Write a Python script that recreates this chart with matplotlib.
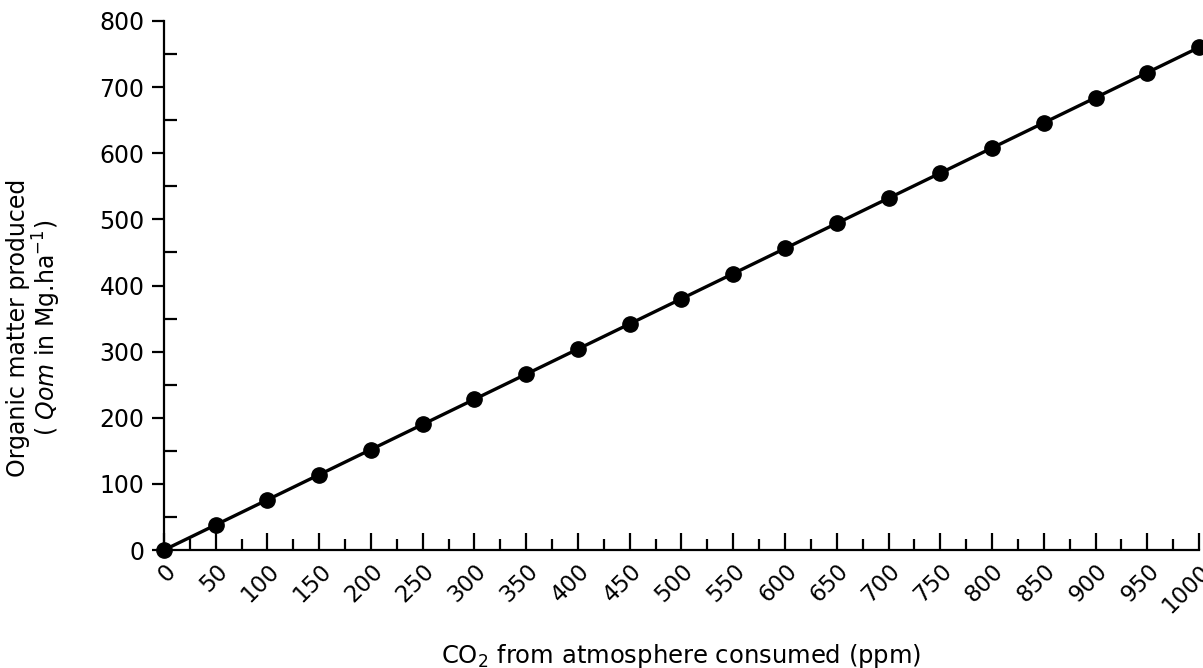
import numpy as np
import matplotlib.pyplot as plt
from matplotlib.ticker import MultipleLocator

# CO2 consumed (ppm) and organic matter produced (Mg/ha)
co2_ppm = [0, 50, 100, 150, 200, 250, 300, 350, 400, 450, 500,
           550, 600, 650, 700, 750, 800, 850, 900, 950, 1000]
qom = [0, 38, 76, 114, 152, 190, 228, 266, 304, 342, 380,
       418, 456, 494, 532, 570, 608, 646, 684, 722, 760]
x_ticks = list(range(0, 1001, 50))
y_ticks = list(range(0, 801, 100))

plt.rcParams['font.family'] = ['DejaVu Sans']

fig = plt.figure(figsize=(12.03, 6.68), dpi=100)
ax = fig.add_axes([0.1363, 0.1766, 0.8604, 0.792])

ax.plot(co2_ppm, qom, color='black', lw=2.4, marker='o', ms=11,
        clip_on=False, zorder=3)

ax.set_xlim(0, 1000)
ax.set_ylim(0, 800)
ax.set_xticks(x_ticks)
ax.set_xticklabels([str(v) for v in x_ticks], rotation=45, ha='right',
                   rotation_mode='anchor', fontsize=16.5)
ax.set_yticks(y_ticks)
ax.set_yticklabels([str(v) for v in y_ticks], fontsize=17)
ax.xaxis.set_minor_locator(MultipleLocator(25))
ax.yaxis.set_minor_locator(MultipleLocator(50))

for s in ['top', 'right']:
    ax.spines[s].set_visible(False)
for s in ['left', 'bottom']:
    ax.spines[s].set_linewidth(1.6)

ax.tick_params(axis='x', which='major', direction='in', length=12, width=1.6, pad=7)
ax.tick_params(axis='x', which='minor', direction='in', length=8, width=1.6)
ax.tick_params(axis='y', which='major', direction='out', length=9, width=1.6, pad=5)
ax.tick_params(axis='y', which='minor', direction='in', length=9, width=1.6)

ax.set_xlabel(r'CO$_2$ from atmosphere consumed (ppm)', fontsize=17.5, va='center')
ax.xaxis.set_label_coords(0.5, -0.2)
ax.set_ylabel('Organic matter produced\n( $\\it{Qom}$ in Mg.ha$^{-1}$)',
              fontsize=17, linespacing=1.05, va='center')
ax.yaxis.set_label_coords(-0.125, 0.42)

fig.savefig('out.png', dpi=100)
